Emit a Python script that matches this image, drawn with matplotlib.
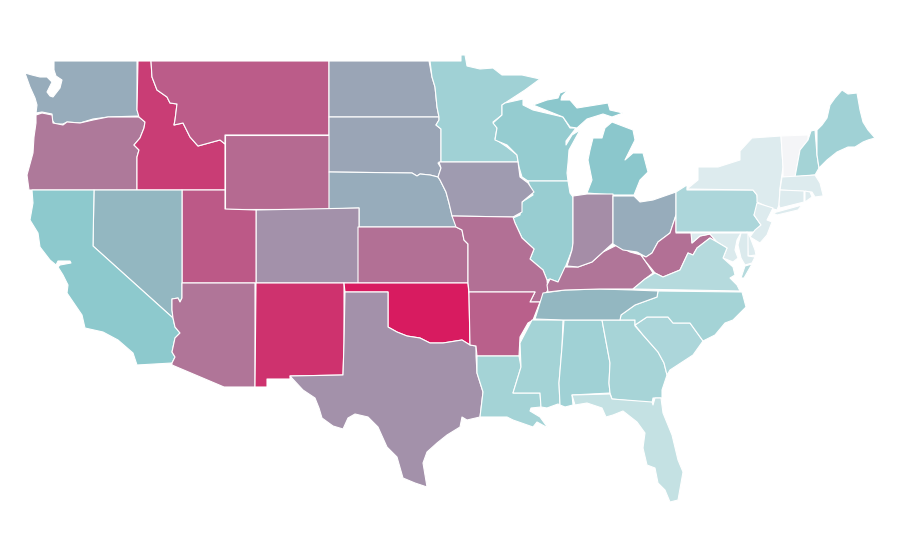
from matplotlib import pyplot as plt
from matplotlib.collections import PolyCollection
from matplotlib.colors import LinearSegmentedColormap, Normalize

# outlines, x / y on a 900x560 grid with y going down
WA = [[(54,61),(137,61),(137,110),(139,116),(108,117),(93,119),(80,123),(67,122),(63,124),(55,124),(52,120),(52,114),(42,112),(36,113),(37,105),(35,98),(30,87),(25,73),(32,75),(40,77),(47,77),(52,82),(47,92),(50,96),(53,97),(60,88),(62,80),(56,76),(54,70)]]
OR = [[(36,115),(42,113),(52,115),(53,123),(63,125),(67,122),(80,123),(93,120),(108,117),(139,117),(145,122),(144,128),(140,138),(134,145),(139,150),(137,157),(137,190),(29,190),(27,175),(33,153),(34,137),(36,123)]]
ID = [[(138,61),(151,61),(152,77),(157,90),(167,97),(170,103),(177,104),(175,120),(174,125),(183,123),(190,137),(198,146),(220,140),(225,144),(225,190),(137,190),(137,157),(139,150),(134,145),(140,138),(144,128),(145,122),(139,117),(137,110)]]
MT = [[(151,61),(329,61),(329,135),(225,135),(225,144),(220,140),(198,146),(190,137),(183,123),(174,125),(175,120),(177,104),(170,103),(167,97),(157,90),(152,77)]]
WY = [[(225,135),(329,135),(329,209),(225,209)]]
ND = [[(329,61),(429,61),(432,77),(435,87),(437,107),(439,117),(329,117)]]
SD = [[(329,117),(439,117),(439,120),(436,125),(441,129),(441,162),(438,163),(441,168),(438,177),(430,175),(420,174),(417,176),(412,173),(329,172)]]
NE = [[(329,172),(412,173),(417,176),(420,174),(430,175),(438,177),(440,180),(446,192),(449,203),(452,215),(457,227),(359,227),(359,208),(329,209)]]
CO = [[(256,210),(359,208),(359,283),(256,283)]]
KS = [[(358,227),(456,227),(462,230),(464,240),(468,244),(468,283),(358,283)]]
UT = [[(182,190),(225,190),(225,209),(256,210),(256,283),(182,283)]]
NV = [[(94,190),(182,190),(182,298),(180,302),(178,298),(172,299),(172,310),(173,318),(93,246)]]
CA = [[(32,190),(94,190),(93,246),(173,318),(175,327),(180,333),(175,338),(172,352),(175,357),(172,363),(137,365),(133,353),(118,340),(103,332),(85,328),(82,315),(67,293),(68,285),(63,275),(58,267),(60,265),(71,263),(70,261),(58,261),(56,265),(50,260),(40,247),(38,233),(30,220),(33,203)]]
AZ = [[(182,283),(255,283),(255,387),(224,387),(172,365),(172,363),(175,357),(172,352),(175,338),(180,333),(175,327),(173,318),(172,310),(172,299),(178,298),(180,302),(182,298)]]
NM = [[(256,283),(344,283),(344,343),(343,375),(290,376),(290,379),(267,379),(267,387),(255,387)]]
OK = [[(344,283),(468,283),(469,295),(470,345),(462,340),(443,343),(430,343),(420,338),(407,336),(397,332),(388,327),(388,292),(345,292)]]
TX = [[(345,292),(388,292),(388,327),(397,332),(407,336),(420,338),(430,343),(443,343),(462,340),(470,345),(476,346),(476,356),(477,373),(483,392),(480,417),(467,420),(462,417),(460,427),(447,435),(437,443),(427,452),(423,463),(427,487),(415,483),(403,478),(397,457),(387,447),(378,427),(368,417),(355,414),(348,418),(343,429),(333,426),(322,418),(319,408),(315,398),(303,390),(290,376),(343,375),(344,343)]]
MN = [[(430,61),(461,61),(461,55),(465,55),(467,66),(480,69),(493,68),(502,75),(522,75),(540,79),(525,90),(505,103),(502,105),(502,115),(493,122),(497,128),(495,139),(507,147),(517,155),(518,162),(441,162),(441,129),(436,125),(439,120),(439,117),(437,107),(435,87),(432,77)]]
WI = [[(502,105),(505,103),(523,99),(523,105),(533,110),(563,117),(570,128),(576,128),(566,141),(566,145),(572,135),(580,130),(569,150),(568,163),(567,173),(568,181),(528,181),(522,177),(519,167),(517,155),(507,145),(495,140),(497,128),(493,123),(502,115)]]
MI = [[(533,105),(547,100),(558,98),(560,93),(568,90),(562,96),(561,100),(570,100),(577,108),(608,103),(610,110),(623,113),(612,117),(603,114),(587,119),(577,128),(570,127),(563,117)],
      [(587,193),(592,180),(588,160),(590,150),(593,138),(602,138),(605,128),(612,122),(633,130),(635,140),(625,160),(633,153),(643,153),(648,172),(640,180),(634,195),(613,195)]]
IL = [[(528,181),(568,181),(570,193),(573,197),(573,243),(572,250),(565,268),(563,273),(558,282),(550,279),(547,280),(543,270),(530,259),(534,249),(522,238),(515,223),(513,218),(520,215),(522,202),(533,195)]]
IA = [[(439,162),(518,162),(520,177),(528,183),(534,192),(522,202),(522,212),(513,217),(452,216),(449,203),(446,192),(440,180),(438,177),(441,168)]]
MO = [[(452,216),(513,217),(515,223),(522,238),(534,249),(530,259),(543,270),(547,280),(548,290),(540,302),(530,302),(535,292),(469,292),(468,283),(468,244),(464,240),(462,230),(456,227)]]
AR = [[(469,292),(535,292),(530,302),(540,302),(533,320),(528,323),(520,337),(519,356),(477,356),(476,346),(470,345),(469,295)]]
LA = [[(477,356),(519,356),(521,367),(513,393),(540,393),(541,407),(531,408),(530,411),(540,417),(548,428),(537,422),(533,427),(513,420),(507,417),(487,417),(480,417),(483,392),(477,373)]]
MS = [[(532,320),(563,320),(562,347),(559,383),(560,405),(558,404),(547,408),(541,407),(540,393),(513,393),(521,367),(520,343)]]
AL = [[(564,320),(602,320),(610,363),(609,383),(610,393),(572,395),(573,405),(565,407),(560,405),(559,383),(562,347)]]
GA = [[(602,320),(635,320),(635,326),(643,335),(658,352),(664,363),(667,375),(662,390),(662,398),(653,398),(652,403),(612,399),(610,393),(609,383),(610,363)]]
FL = [[(572,395),(610,394),(612,399),(652,402),(653,405),(655,398),(661,398),(663,413),(672,435),(678,460),(683,472),(678,500),(670,502),(665,490),(658,483),(655,468),(647,465),(643,448),(645,433),(637,422),(623,411),(613,415),(606,417),(602,408),(587,403),(575,405)]]
SC = [[(635,325),(647,317),(668,317),(673,323),(690,323),(703,341),(693,355),(670,370),(667,375),(664,363),(658,352),(643,335)]]
NC = [[(620,320),(621,315),(635,305),(657,297),(658,291),(742,292),(746,307),(733,320),(725,323),(715,335),(703,341),(690,323),(673,323),(668,317),(647,317),(635,325),(635,320)]]
TN = [[(535,319),(543,293),(565,290),(600,289),(633,290),(658,291),(657,297),(635,305),(621,315),(620,320),(563,320)]]
KY = [[(548,292),(565,290),(600,289),(633,289),(645,279),(653,273),(646,262),(641,255),(630,252),(617,245),(603,252),(592,262),(578,267),(565,267),(558,282),(550,279),(547,285)]]
IN = [[(573,196),(587,194),(613,194),(613,243),(603,252),(592,262),(578,267),(567,266),(572,250),(573,243)]]
OH = [[(613,196),(634,196),(640,202),(653,200),(676,192),(676,215),(670,233),(658,242),(652,253),(646,257),(637,252),(623,250),(613,244)]]
WV = [[(676,215),(676,233),(692,233),(692,243),(700,236),(710,234),(717,242),(710,238),(697,248),(693,255),(688,253),(680,270),(663,277),(655,273),(646,262),(641,255),(646,257),(652,253),(658,242),(670,233)]]
PA = [[(676,232),(676,192),(687,185),(687,190),(753,190),(757,195),(758,202),(761,203),(754,215),(761,225),(755,232)]]
NY = [[(687,189),(698,180),(698,167),(718,167),(740,160),(740,151),(752,138),(781,136),(783,167),(780,188),(779,205),(777,210),(770,208),(757,202),(757,195),(753,190)],
      [(773,213),(802,205),(798,210),(777,215)]]
VT = [[(781,136),(808,135),(808,140),(800,150),(795,177),(783,177),(783,167)]]
NH = [[(811,131),(815,130),(817,155),(819,168),(815,175),(795,177),(800,150),(808,140)]]
ME = [[(817,130),(822,125),(827,118),(830,105),(835,98),(842,90),(848,94),(857,93),(860,110),(863,122),(868,130),(875,138),(868,140),(863,142),(855,147),(848,147),(837,152),(827,160),(819,168),(817,155)]]
MA = [[(782,177),(815,175),(820,183),(823,195),(830,195),(815,197),(812,192),(780,190)]]
CT = [[(780,190),(804,191),(804,202),(780,208),(779,205)]]
RI = [[(805,191),(810,192),(812,197),(805,202)]]
NJ = [[(757,203),(773,208),(767,220),(772,222),(767,235),(760,243),(750,237),(755,230),(761,225),(754,215)]]
DE = [[(747,232),(750,237),(755,250),(756,255),(748,256)]]
MD = [[(691,233),(741,233),(737,240),(735,250),(738,258),(733,262),(723,258),(727,248),(717,242),(710,234),(700,236),(692,243)],
      [(741,233),(748,233),(748,256),(755,257),(752,263),(745,265),(741,258),(738,245)]]
VA = [[(633,289),(740,291),(737,285),(730,278),(735,275),(733,267),(723,258),(727,248),(717,242),(710,238),(697,248),(693,255),(688,253),(680,270),(663,277),(655,273),(645,279)],
      [(752,264),(745,266),(741,278),(744,278)]]

shapes = [WA, OR, ID, MT, WY, ND, SD, NE, CO, KS, UT, NV, CA, AZ, NM, OK, TX, MN, WI, MI, IL, IA, MO, AR, LA, MS, AL, GA, FL, SC, NC, TN, KY, IN, OH, WV, PA, NY, VT, NH, ME, MA, CT, RI, NJ, DE, MD, VA]
values = [58, 73, 90, 81, 77, 60, 60, 58, 66, 75, 82, 55, 49, 74, 93, 100, 66, 40, 45, 50, 44, 63, 75, 80, 38, 38, 40, 37, 23, 34, 38, 55, 74, 67, 58, 75, 34, 11, 0, 38, 40, 11, 11, 11, 11, 11, 12, 30]

scale_colors = ["#f4f5f7", "#8bc8cc", "#d81b60"]

cmap = LinearSegmentedColormap.from_list("scale", scale_colors)
norm = Normalize(0, 100)

polys = []
poly_values = []
for shape, val in zip(shapes, values):
    for part in shape:
        polys.append(part)
        poly_values.append(val)

fig = plt.figure(figsize=(9, 5.6), dpi=100)
ax = fig.add_axes([0, 0, 1, 1])
states = PolyCollection(polys, array=poly_values, cmap=cmap, norm=norm, edgecolors="white", linewidths=0.8)
ax.add_collection(states)
ax.set_xlim(0, 900)
ax.set_ylim(560, 0)
ax.axis("off")
fig.savefig("out.png", dpi=100)
